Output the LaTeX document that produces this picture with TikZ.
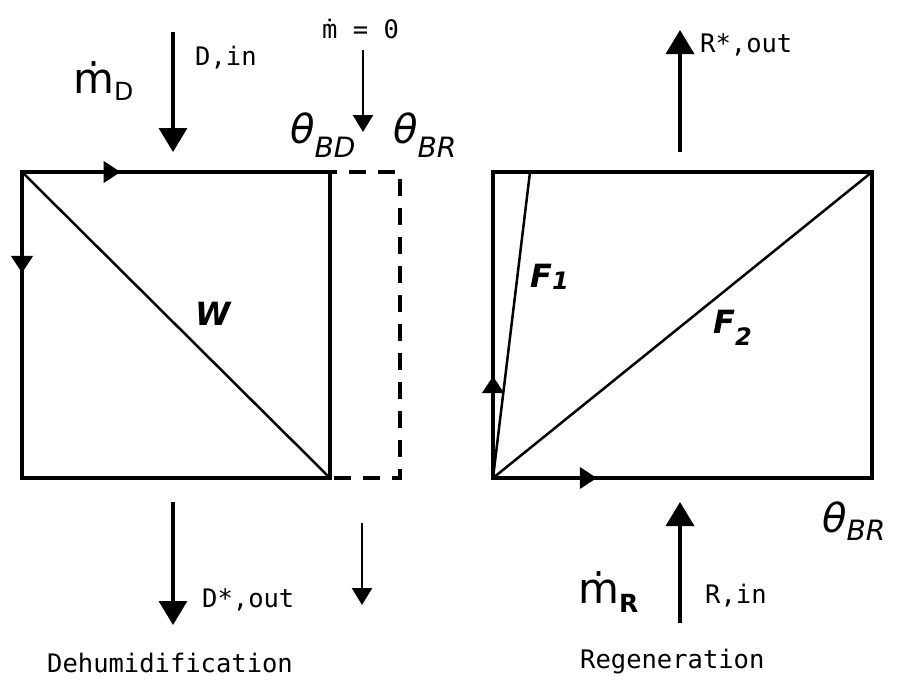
\documentclass[tikz,border=0pt]{standalone}
\usepackage{fontspec}
\usetikzlibrary{arrows.meta,calc}
\newfontfamily\twfont{DejaVu Sans Mono}
\newfontfamily\dvs{DejaVu Sans}
\begin{document}
\begin{tikzpicture}[x=1pt,y=-1pt,
  box/.style={line width=4pt},
  diag/.style={line width=2.5pt},
  dashbox/.style={line width=3.5pt,dash pattern=on 17pt off 12pt,dash phase=10pt},
  edgearrow/.style={line width=4pt,-{Triangle[length=17pt,width=21pt]}},
  flow/.style={line width=3.5pt,-{Triangle[length=24pt,width=28pt]}},
  smallflow/.style={line width=2.5pt,-{Triangle[length=17pt,width=20pt]}},
  tw/.style={font=\twfont\fontsize{25.5}{30}\selectfont,inner sep=0pt,anchor=base west},
  lbl/.style={inner sep=0pt,anchor=base west}]
\useasboundingbox (0,0) rectangle (907,688);

% left box
\coordinate (A1) at (22,172);
\coordinate (A2) at (330,172);
\coordinate (A3) at (330,478);
\coordinate (A4) at (22,478);
\coordinate (C1) at (400,172);
\coordinate (C2) at (400,478);
\draw[box] (A1) -- (A2) -- (A3) -- (A4) -- cycle;
\draw[diag] (A1) -- (A3);
\draw[edgearrow] (A1) -- ($(A1)!0.32!(A2)$);
\draw[edgearrow] (A1) -- ($(A1)!0.33!(A4)$);
\draw[dashbox] (A2) -- (C1) -- (C2) -- (A3);

% right box
\coordinate (B1) at (493,172);
\coordinate (B2) at (872,172);
\coordinate (B3) at (872,478);
\coordinate (B4) at (493,478);
\coordinate (F1t) at (530,172);
\draw[box] (B1) -- (B2) -- (B3) -- (B4) -- cycle;
\draw[diag] (B4) -- (F1t);
\draw[diag] (B4) -- (B2);
\draw[edgearrow] (B4) -- ($(B4)!0.333!(B1)$);
\draw[edgearrow] (B4) -- ($(B4)!0.274!(B3)$);

% flows
\coordinate (din0) at (173,32);  \coordinate (din1) at (173,152);
\coordinate (mz0) at (363,50);   \coordinate (mz1) at (363,132);
\coordinate (rout0) at (680,152); \coordinate (rout1) at (680,30);
\coordinate (dout0) at (173,502); \coordinate (dout1) at (173,625);
\coordinate (mo0) at (362,523);  \coordinate (mo1) at (362,605);
\coordinate (rin0) at (680,623); \coordinate (rin1) at (680,502);
\draw[flow] (din0) -- (din1);
\draw[smallflow] (mz0) -- (mz1);
\draw[flow] (rout0) -- (rout1);
\draw[flow] (dout0) -- (dout1);
\draw[smallflow] (mo0) -- (mo1);
\draw[flow] (rin0) -- (rin1);

% labels
\node[lbl] (mD) at (73,93) {\dvs\fontsize{42}{42}\selectfont ṁ\raisebox{-7pt}{\fontsize{25}{25}\selectfont D}};
\node[tw] (Din) at (195,65) {D,in};
\node[tw] (mzero) at (322,38) {ṁ = 0};
\node[lbl] (tBD) at (290,143) {\dvs\itshape\fontsize{40}{40}\selectfont θ\raisebox{-14pt}{\fontsize{28}{28}\selectfont BD}};
\node[lbl] (tBRa) at (393,143) {\dvs\itshape\fontsize{40}{40}\selectfont θ\raisebox{-14pt}{\fontsize{28}{28}\selectfont BR}};
\node[tw] (Rout) at (700,52) {R*,out};
\node[tw] (Dout) at (202,607) {D*,out};
\node[tw] (dehum) at (47,672) {Dehumidification};
\node[tw] (regen) at (580,668) {Regeneration};
\node[lbl] (mR) at (578,603) {\dvs\fontsize{42}{42}\selectfont ṁ\raisebox{-9pt}{\fontsize{25}{25}\bfseries\selectfont R}};
\node[tw] (Rin) at (705,603) {R,in};
\node[lbl] (tBRb) at (822,532) {\dvs\itshape\fontsize{40}{40}\selectfont θ\raisebox{-8pt}{\fontsize{28}{28}\selectfont BR}};
\node[lbl] (W) at (195,325) {\dvs\bfseries\itshape\fontsize{32}{32}\selectfont W};
\node[lbl] (Fone) at (530,287) {\dvs\bfseries\itshape\fontsize{32}{32}\selectfont F\raisebox{-2pt}{\fontsize{24}{24}\selectfont 1}};
\node[lbl] (Ftwo) at (713,333) {\dvs\bfseries\itshape\fontsize{32}{32}\selectfont F\raisebox{-12pt}{\fontsize{24}{24}\selectfont 2}};
\end{tikzpicture}
\end{document}
